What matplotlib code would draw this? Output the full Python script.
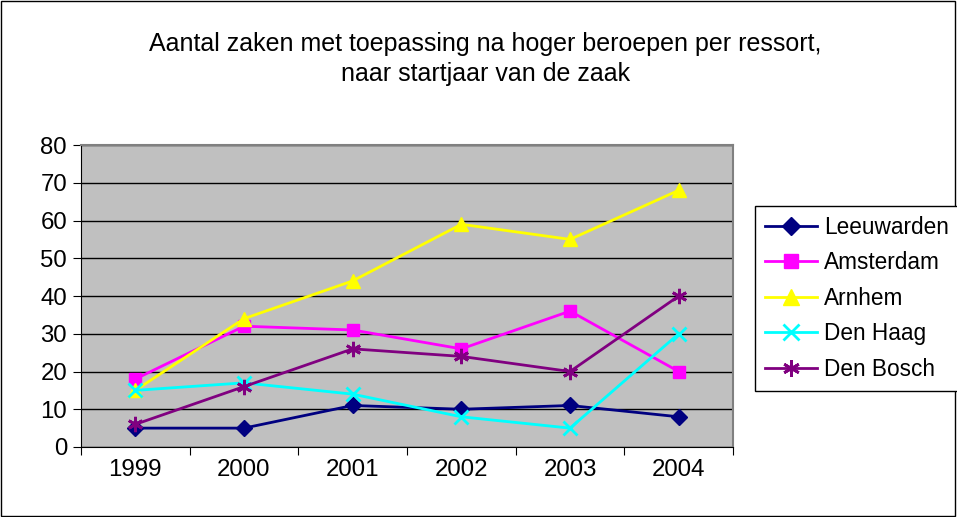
import numpy as np
import matplotlib.pyplot as plt

plt.rcParams['font.family'] = ['Liberation Sans', 'DejaVu Sans']

years = ['1999', '2000', '2001', '2002', '2003', '2004']
leeuwarden = [5, 5, 11, 10, 11, 8]
amsterdam = [18, 32, 31, 26, 36, 20]
arnhem = [15, 34, 44, 59, 55, 68]
den_haag = [15, 17, 14, 8, 5, 30]
den_bosch = [6, 16, 26, 24, 20, 40]

fig = plt.figure(figsize=(9.57, 5.17), dpi=100)
fig.patches.append(plt.Rectangle((0.001, 0.002), 0.997, 0.996, transform=fig.transFigure,
                                 fill=False, edgecolor='black', linewidth=1))

ax = fig.add_axes([0.0846, 0.1354, 0.6814, 0.5841])
ax.set_facecolor('#C0C0C0')

x = np.arange(len(years)) + 0.5
ax.plot(x, leeuwarden, color='#000080', marker='D', markersize=8, lw=2, label='Leeuwarden')
ax.plot(x, amsterdam, color='#FF00FF', marker='s', markersize=9, lw=2, label='Amsterdam')
ax.plot(x, arnhem, color='#FFFF00', marker='^', markersize=10, lw=2, label='Arnhem')
ax.plot(x, den_haag, color='#00FFFF', marker='x', markersize=10, mew=2, lw=2, label='Den Haag')
ax.plot(x, den_bosch, color='#800080', marker=(6, 2, 0), markersize=11, mew=2, lw=2, label='Den Bosch')

ax.set_xlim(0, 6)
ax.set_ylim(0, 80)
ax.set_yticks(range(0, 81, 10))
ax.set_xticks(range(0, 7))
ax.set_xticklabels([])
ax.set_xticks(x, minor=True)
ax.set_xticklabels(years, minor=True)
ax.tick_params(axis='x', which='minor', length=0, pad=9, labelsize=17.3)
ax.tick_params(axis='x', which='major', length=6, direction='out')
ax.tick_params(axis='y', length=6, direction='out', labelsize=17.3, pad=4)
ax.yaxis.grid(True, color='black', lw=1)
ax.set_axisbelow(True)
ax.spines['top'].set_color('#808080')
ax.spines['right'].set_color('#808080')
ax.spines['top'].set_linewidth(1.5)
ax.spines['right'].set_linewidth(1.5)

fig.text(0.507, 0.886, 'Aantal zaken met toepassing na hoger beroepen per ressort,\nnaar startjaar van de zaak',
         ha='center', va='center', fontsize=18, linespacing=1.3)

leg = fig.legend(loc='upper left', bbox_to_anchor=(0.789, 0.602), fontsize=16.3, frameon=True,
                 fancybox=False, edgecolor='black', framealpha=1, handlelength=2.3,
                 handletextpad=0.3, borderpad=0.45, labelspacing=0.55, borderaxespad=0,
                 markerscale=1.1)
leg.get_frame().set_linewidth(1)

plt.savefig('out.png', dpi=100)
